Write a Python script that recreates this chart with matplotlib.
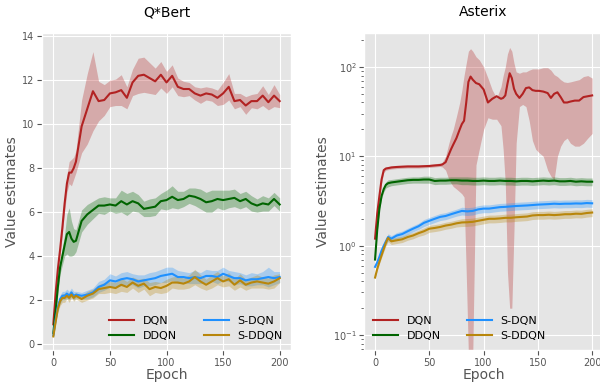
import matplotlib as mpl
mpl.use('Agg')
import matplotlib.pyplot as plt
import numpy as np

plt.style.use('ggplot')

# ---------------- Q*Bert ----------------
qb_epochs = [0, 2, 4, 6, 8, 10, 12, 14, 16, 18, 20, 25, 30, 35, 40, 45, 50, 55, 60, 65,
             70, 75, 80, 85, 90, 95, 100, 105, 110, 115, 120, 125, 130, 135, 140, 145,
             150, 155, 160, 165, 170, 175, 180, 185, 190, 195, 200]

qb_dqn = [0.9, 2.3, 3.4, 4.3, 5.3, 6.4, 7.3, 7.8, 7.8, 8.0, 8.3, 9.9, 10.7, 11.5, 11.05,
          11.1, 11.4, 11.45, 11.55, 11.2, 11.9, 12.2, 12.25, 12.1, 11.95, 12.25, 11.9,
          12.2, 11.7, 11.6, 11.6, 11.4, 11.3, 11.4, 11.35, 11.2, 11.4, 11.7, 11.05, 11.1,
          10.85, 11.05, 11.05, 11.3, 11.0, 11.3, 11.05]
qb_dqn_sd = [0.1, 0.15, 0.2, 0.25, 0.3, 0.35, 0.4, 0.5, 0.6, 0.5, 0.5, 1.2, 1.6, 1.8, 0.9,
             0.7, 0.6, 0.6, 0.7, 0.5, 0.6, 0.8, 0.8, 0.7, 0.6, 0.6, 0.5, 0.5, 0.4, 0.35,
             0.3, 0.3, 0.35, 0.3, 0.3, 0.35, 0.5, 0.6, 0.35, 0.3, 0.4, 0.3, 0.35, 0.45,
             0.35, 0.5, 0.3]

qb_ddqn = [0.5, 1.5, 2.6, 3.5, 4.0, 4.5, 5.0, 5.1, 4.8, 4.65, 4.7, 5.6, 5.9, 6.1, 6.3,
           6.3, 6.35, 6.3, 6.5, 6.35, 6.5, 6.4, 6.15, 6.2, 6.25, 6.5, 6.55, 6.7, 6.55,
           6.6, 6.75, 6.7, 6.6, 6.45, 6.5, 6.6, 6.55, 6.6, 6.65, 6.5, 6.6, 6.4, 6.3, 6.4,
           6.35, 6.6, 6.35]
qb_ddqn_sd = [0.1, 0.2, 0.3, 0.3, 0.4, 0.5, 0.9, 1.1, 0.8, 0.6, 0.5, 0.5, 0.45, 0.4, 0.35,
              0.4, 0.3, 0.35, 0.5, 0.5, 0.45, 0.4, 0.35, 0.4, 0.4, 0.35, 0.45, 0.5, 0.4,
              0.35, 0.35, 0.4, 0.45, 0.45, 0.5, 0.4, 0.45, 0.4, 0.4, 0.35, 0.35, 0.35,
              0.3, 0.35, 0.3, 0.3, 0.3]

qb_sdqn = [0.4, 1.1, 1.7, 2.05, 2.2, 2.2, 2.3, 2.2, 2.35, 2.2, 2.25, 2.2, 2.25, 2.35, 2.6,
           2.7, 2.9, 2.85, 2.95, 3.0, 2.95, 2.85, 2.9, 2.95, 3.0, 3.1, 3.15, 3.2, 3.05,
           3.05, 3.0, 3.05, 3.0, 3.1, 3.1, 3.05, 3.2, 3.1, 3.0, 3.0, 2.9, 2.95, 2.95,
           3.0, 3.05, 3.0, 3.05]
qb_sdqn_sd = [0.05, 0.1, 0.15, 0.2, 0.2, 0.2, 0.2, 0.2, 0.2, 0.2, 0.15, 0.15, 0.2, 0.2,
              0.25, 0.25, 0.3, 0.25, 0.3, 0.3, 0.25, 0.3, 0.25, 0.3, 0.3, 0.3, 0.35, 0.3,
              0.3, 0.25, 0.25, 0.3, 0.25, 0.3, 0.25, 0.3, 0.3, 0.25, 0.3, 0.25, 0.25,
              0.3, 0.25, 0.3, 0.45, 0.3, 0.25]

qb_sddqn = [0.35, 1.0, 1.6, 1.95, 2.1, 2.1, 2.2, 2.1, 2.25, 2.1, 2.2, 2.05, 2.2, 2.3, 2.5,
            2.55, 2.6, 2.55, 2.7, 2.6, 2.8, 2.65, 2.75, 2.5, 2.6, 2.55, 2.65, 2.8, 2.8,
            2.75, 2.85, 3.05, 2.85, 2.7, 2.85, 3.0, 2.85, 2.95, 2.7, 2.9, 2.7, 2.8, 2.85,
            2.8, 2.75, 2.85, 3.0]
qb_sddqn_sd = [0.05, 0.1, 0.15, 0.2, 0.2, 0.2, 0.15, 0.2, 0.15, 0.15, 0.15, 0.15, 0.2,
               0.2, 0.2, 0.25, 0.25, 0.25, 0.3, 0.25, 0.25, 0.3, 0.25, 0.3, 0.25, 0.25,
               0.3, 0.25, 0.3, 0.25, 0.3, 0.35, 0.3, 0.25, 0.3, 0.3, 0.25, 0.3, 0.25,
               0.3, 0.25, 0.25, 0.3, 0.25, 0.25, 0.3, 0.2]

# ---------------- Asterix ----------------
ax_dqn_epochs = [0, 2, 4, 6, 8, 10, 15, 20, 30, 40, 50, 60, 62, 65, 68, 70, 72, 75, 78,
                 80, 82, 84, 86, 88, 90, 93, 96, 100, 104, 108, 112, 116, 118, 120, 122,
                 124, 126, 128, 130, 133, 136, 139, 142, 145, 148, 151, 155, 159, 162,
                 165, 168, 171, 174, 177, 180, 184, 188, 192, 196, 200]
ax_dqn = [1.2, 2.3, 3.6, 5.5, 7.0, 7.3, 7.5, 7.6, 7.7, 7.7, 7.8, 8.0, 8.1, 8.6, 10.5, 12,
          13.5, 16, 20, 23, 25, 40, 68, 78, 72, 66, 64, 56, 40, 44, 47, 44, 45, 48, 65,
          85, 75, 57, 50, 45, 50, 58, 59, 55, 54, 54, 53, 51, 45, 50, 52, 46, 40, 40, 41,
          42, 42, 46, 47, 48]
ax_dqn_lo = [1.1, 2.1, 3.3, 5.0, 6.6, 7.0, 7.2, 7.3, 7.4, 7.4, 7.5, 7.7, 7.6, 7.0, 5.5,
             5.0, 4.6, 4.3, 4.0, 3.8, 3.5, 0.5, 0.06, 0.06, 0.06, 8, 12, 20, 27, 26, 26,
             22, 12, 5, 0.5, 0.2, 0.2, 1.5, 14, 36, 38, 36, 25, 15, 12, 11, 10, 7, 6, 5.5,
             10, 13, 15, 16, 14, 13, 13, 14, 16, 18]
ax_dqn_hi = [1.3, 2.5, 3.9, 6.0, 7.4, 7.6, 7.8, 7.9, 8.0, 8.0, 8.1, 8.4, 8.6, 10, 14, 17,
             20, 28, 40, 55, 80, 110, 150, 160, 150, 130, 120, 100, 75, 55, 45, 60, 80,
             100, 140, 165, 150, 110, 88, 85, 88, 88, 92, 95, 95, 95, 98, 98, 92, 82, 78,
             72, 68, 67, 68, 70, 72, 78, 80, 75]

ax_epochs = [0, 2, 4, 6, 8, 10, 12, 15, 20, 25, 30, 35, 40, 45, 50, 55, 60, 65, 70, 75,
             80, 85, 90, 95, 100, 105, 110, 115, 120, 125, 130, 135, 140, 145, 150, 155,
             160, 165, 170, 175, 180, 185, 190, 195, 200]
ax_ddqn = [0.7, 1.5, 2.6, 3.6, 4.3, 4.8, 5.0, 5.1, 5.2, 5.3, 5.4, 5.45, 5.45, 5.5, 5.5,
           5.3, 5.35, 5.35, 5.4, 5.4, 5.35, 5.35, 5.3, 5.3, 5.35, 5.3, 5.3, 5.35, 5.3, 5.3,
           5.25, 5.3, 5.3, 5.25, 5.3, 5.35, 5.3, 5.35, 5.25, 5.25, 5.3, 5.2, 5.25, 5.2, 5.2]
ax_sdqn = [0.58, 0.65, 0.75, 0.88, 1.0, 1.12, 1.25, 1.2, 1.3, 1.35, 1.45, 1.55, 1.65, 1.8,
           1.9, 2.0, 2.1, 2.15, 2.25, 2.35, 2.45, 2.42, 2.45, 2.55, 2.6, 2.6, 2.65, 2.7,
           2.72, 2.75, 2.78, 2.8, 2.82, 2.85, 2.88, 2.9, 2.92, 2.95, 2.93, 2.95, 2.95,
           2.97, 2.96, 3.0, 2.98]
ax_sddqn = [0.44, 0.55, 0.66, 0.78, 0.92, 1.08, 1.22, 1.12, 1.15, 1.18, 1.25, 1.3, 1.38,
            1.45, 1.55, 1.58, 1.62, 1.68, 1.72, 1.78, 1.82, 1.83, 1.85, 1.9, 1.95, 2.0,
            2.0, 2.02, 2.05, 2.05, 2.08, 2.1, 2.12, 2.18, 2.2, 2.2, 2.22, 2.2, 2.22, 2.25,
            2.25, 2.28, 2.27, 2.32, 2.35]
ax_small_sd = [0.02, 0.04, 0.05, 0.06, 0.07, 0.08, 0.09, 0.08, 0.08, 0.08, 0.08, 0.08,
               0.08, 0.09, 0.09, 0.09, 0.09, 0.09, 0.09, 0.09, 0.1, 0.1, 0.1, 0.1, 0.1,
               0.1, 0.1, 0.1, 0.1, 0.1, 0.1, 0.1, 0.1, 0.1, 0.1, 0.1, 0.1, 0.1, 0.1, 0.1,
               0.1, 0.1, 0.1, 0.1, 0.1]

labels = ['DQN', 'DDQN', 'S-DQN', 'S-DDQN']
colors = ['#B22222', '#006400', '#1E90FF', '#B8860B']

fig = plt.figure(figsize=(6, 3.83), dpi=100)
ax1 = fig.add_axes([0.07, 0.086, 0.415, 0.828])
ax2 = fig.add_axes([0.607, 0.086, 0.398, 0.828])


def draw(ax, x, y, lo, hi, c, lab):
    ax.fill_between(x, lo, hi, color=c, alpha=0.3, linewidth=0)
    ax.plot(x, y, color=c, lw=1.5, label=lab)


qb_series = [(qb_dqn, qb_dqn_sd), (qb_ddqn, qb_ddqn_sd),
             (qb_sdqn, qb_sdqn_sd), (qb_sddqn, qb_sddqn_sd)]
for (m, s), c, lab in zip(qb_series, colors, labels):
    m = np.array(m)
    s = np.array(s)
    draw(ax1, qb_epochs, m, m - s, m + s, c, lab)

draw(ax2, ax_dqn_epochs, ax_dqn, ax_dqn_lo, ax_dqn_hi, colors[0], labels[0])
sd = np.array(ax_small_sd)
for m, c, lab in zip([ax_ddqn, ax_sdqn, ax_sddqn], colors[1:], labels[1:]):
    m = np.array(m)
    draw(ax2, ax_epochs, m, m * (1 - sd), m * (1 + sd), c, lab)
ax2.set_yscale('log')
ax2.set_ylim(0.068, 240)

ax1.set_xlim(-10, 210)
ax1.set_ylim(-0.27, 14.15)
ax2.set_xlim(-10, 210)

for ax, title in [(ax1, 'Q*Bert'), (ax2, 'Asterix')]:
    ax.set_title(title, fontsize=10, pad=12, color='black')
    ax.set_xlabel('Epoch', fontsize=10, labelpad=0)
    ax.set_ylabel('Value estimates', fontsize=10, labelpad=2)
    ax.tick_params(labelsize=7, pad=2)
    ax.set_xticks([0, 50, 100, 150, 200])

leg_kw = dict(ncol=2, frameon=False, fontsize=8, handlelength=2.25, handletextpad=0.75,
              columnspacing=2.4, borderaxespad=0.4, labelspacing=0.5)
ax1.legend(loc='lower right', **leg_kw)
ax2.legend(loc='lower left', **leg_kw)

plt.savefig('out.png', dpi=100)
